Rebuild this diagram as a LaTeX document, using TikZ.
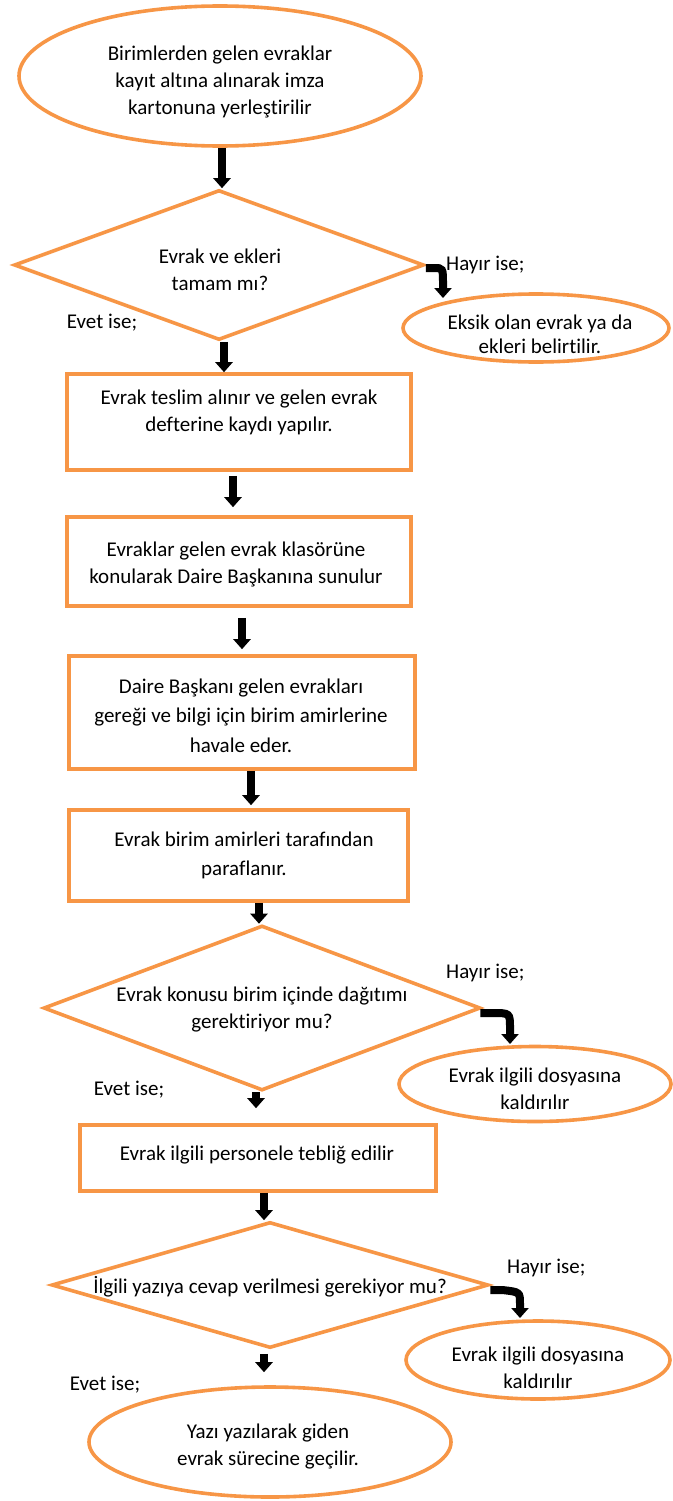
\documentclass[tikz,border=0pt]{standalone}
\usepackage{fontspec}
\setmainfont{Carlito}[Ligatures=NoCommon]
\usetikzlibrary{shapes.geometric,arrows.meta}
\definecolor{org}{HTML}{F79646}
\tikzset{
  shp/.style={draw=org,line width=3.6pt,inner sep=0pt,fill=white},
  ell/.style={shp,ellipse},
  box/.style={shp,rectangle},
  dia/.style={shp,diamond},
  txt/.style={align=center,font=\fontsize{21}{27}\selectfont,inner sep=0pt},
  lbl/.style={font=\fontsize{21}{27}\selectfont,inner sep=0pt},
  blk/.style={line width=8pt,-{Triangle[width=17pt,length=10pt]}},
}
\begin{document}
\begin{tikzpicture}[x=1pt,y=-1pt]
\useasboundingbox (0,0) rectangle (672,1501);
% shapes
\node[ell,minimum width=402pt,minimum height=140pt] (e1) at (220,76) {};
\node[dia,minimum width=410pt,minimum height=150pt] (d1) at (219,265) {};
\node[ell,minimum width=266pt,minimum height=68pt] (e2) at (536,328) {};
\node[box,minimum width=344pt,minimum height=96pt] (r1) at (239,422) {};
\node[box,minimum width=344pt,minimum height=89pt] (r2) at (239,561.5) {};
\node[box,minimum width=346pt,minimum height=113pt] (r3) at (242,712.5) {};
\node[box,minimum width=339pt,minimum height=91pt] (r4) at (238.5,855.5) {};
\node[dia,minimum width=437pt,minimum height=165pt] (d2) at (262,1008) {};
\node[ell,minimum width=272pt,minimum height=75pt] (e3) at (535,1084) {};
\node[box,minimum width=356pt,minimum height=66pt] (r5) at (258,1158) {};
\node[dia,minimum width=437pt,minimum height=126pt] (d3) at (270,1285) {};
\node[ell,minimum width=264pt,minimum height=78pt] (e4) at (538,1360) {};
\node[ell,minimum width=362pt,minimum height=110pt] (e5) at (270,1442) {};
% texts
\node[txt] (t1) at (220,81.5) {Birimlerden gelen evraklar\\kayıt altına alınarak imza\\kartonuna yerleştirilir};
\node[txt] (t2) at (220,269.5) {Evrak ve ekleri\\tamam mı?};
\node[lbl,anchor=west] (h1) at (446,265) {Hayır ise;};
\node[txt,font=\fontsize{21}{24}\selectfont] (t3) at (540,334) {Eksik olan evrak ya da\\ekleri belirtilir.};
\node[lbl] (v1) at (102,323) {Evet ise;};
\node[txt] (t4) at (239,412) {Evrak teslim alınır ve gelen evrak\\defterine kaydı yapılır.};
\node[txt] (t5) at (236,564) {Evraklar gelen evrak klasörüne\\konularak Daire Başkanına sunulur};
\node[txt,font=\fontsize{21}{29.5}\selectfont] (t6) at (241,715.5) {Daire Başkanı gelen evrakları\\gereği ve bilgi için birim amirlerine\\havale eder.};
\node[txt,font=\fontsize{21}{29}\selectfont] (t7) at (244,855.5) {Evrak birim amirleri tarafından\\paraflanır.};
\node[txt] (t8) at (262,1009.5) {Evrak konusu birim içinde dağıtımı\\gerektiriyor mu?};
\node[lbl,anchor=west] (h2) at (446,973) {Hayır ise;};
\node[txt] (t9) at (535,1089) {Evrak ilgili dosyasına\\kaldırılır};
\node[lbl] (v2) at (129,1090) {Evet ise;};
\node[txt] (t10) at (257,1155) {Evrak ilgili personele tebliğ edilir};
\node[txt] (t11) at (270,1287) {İlgili yazıya cevap verilmesi gerekiyor mu?};
\node[lbl,anchor=west] (h3) at (507,1268) {Hayır ise;};
\node[txt] (t12) at (538,1368) {Evrak ilgili dosyasına\\kaldırılır};
\node[lbl] (v3) at (105,1385) {Evet ise;};
\node[txt] (t13) at (268,1446) {Yazı yazılarak giden\\evrak sürecine geçilir.};
% straight arrows
\draw[blk] (e1.south -| 222,0) -- (d1.north -| 222,0);
\draw[blk] (d1.south -| 224,0) -- (r1.north -| 224,0);
\draw[blk] (r1.south -| 233,0) ++(0,4) -- ([yshift=8pt]r2.north -| 233,0);
\draw[blk] (r2.south -| 242,0) ++(0,10) -- ([yshift=5pt]r3.north -| 242,0);
\draw[blk] (r3.south -| 251,0) -- ([yshift=3pt]r4.north -| 251,0);
\draw[blk] (r4.south -| 259,0) -- (d2.north -| 259,0);
\draw[blk] (d2.south -| 256,0) -- ([yshift=15pt]r5.north -| 256,0);
\draw[blk] (r5.south -| 264,0) -- (d3.north -| 264,0);
\draw[blk] (d3.south -| 264,0) ++(0,4) -- ([yshift=13pt]e5.north -| 264,0);
% curved arrows
\coordinate (c1) at (443,298);
\coordinate (c2) at (510,1044);
\coordinate (c3) at (520,1318);
\draw[blk] (d1.east) ++(0,3) -- ++(8,0) .. controls (443,268) .. (443,284) -- (c1);
\draw[blk] (d2.east) ++(-2,5) -- ++(12,0) .. controls (510,1013) .. (510,1028) -- (c2);
\draw[blk] (d3.east) ++(0,5) -- ++(12,0) .. controls (520,1292) .. (520,1304) -- (c3);
\end{tikzpicture}
\end{document}
